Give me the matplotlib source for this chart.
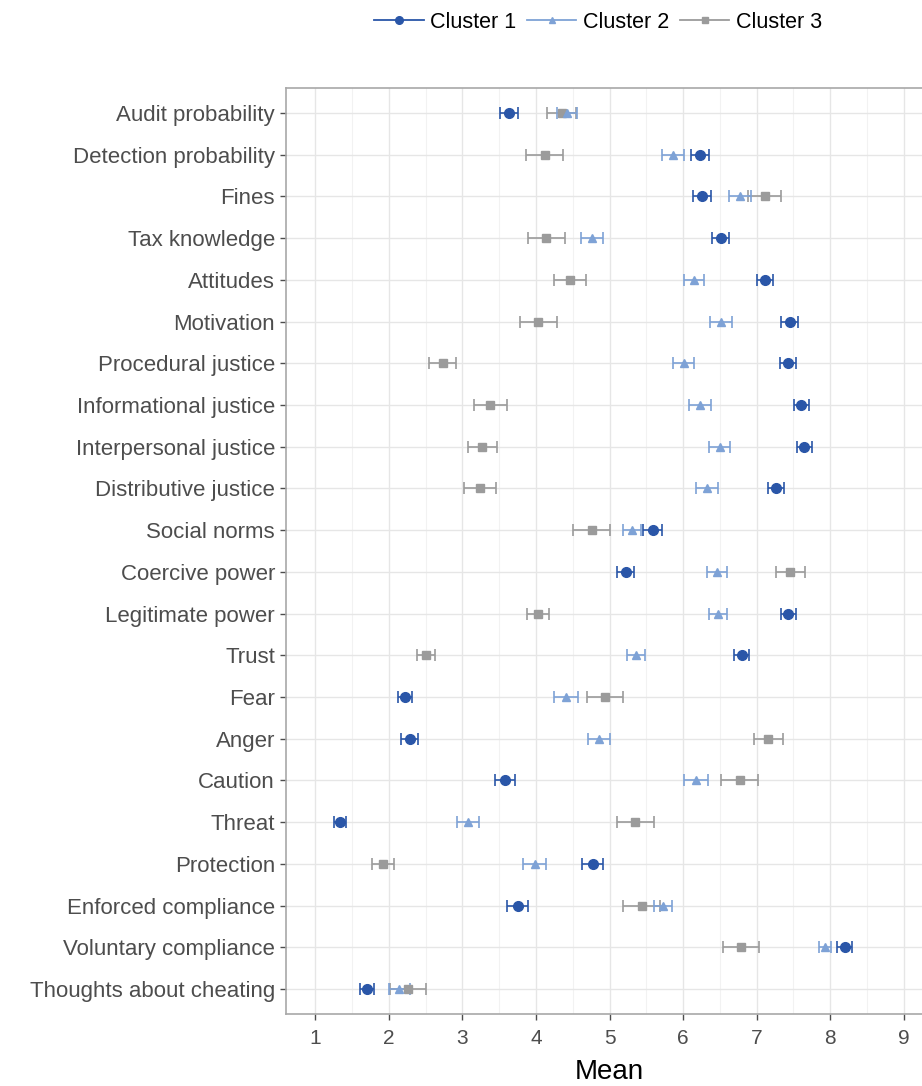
import numpy as np
import matplotlib
matplotlib.use('Agg')
import matplotlib.pyplot as plt
from matplotlib.lines import Line2D

plt.rcParams['font.family'] = ['Liberation Sans', 'DejaVu Sans']

# Data (top row first)
variables = ['Audit probability', 'Detection probability', 'Fines', 'Tax knowledge',
             'Attitudes', 'Motivation', 'Procedural justice', 'Informational justice',
             'Interpersonal justice', 'Distributive justice', 'Social norms',
             'Coercive power', 'Legitimate power', 'Trust', 'Fear', 'Anger',
             'Caution', 'Threat', 'Protection', 'Enforced compliance',
             'Voluntary compliance', 'Thoughts about cheating']

cluster1_mean = [3.63, 6.23, 6.26, 6.51, 7.11, 7.45, 7.43, 7.61, 7.65, 7.27, 5.59,
                 5.22, 7.43, 6.80, 2.22, 2.28, 3.58, 1.33, 4.77, 3.75, 8.20, 1.70]
cluster1_err = [0.12, 0.12, 0.12, 0.12, 0.11, 0.12, 0.11, 0.10, 0.10, 0.11, 0.13,
                0.12, 0.10, 0.10, 0.10, 0.11, 0.14, 0.08, 0.14, 0.14, 0.10, 0.10]

cluster2_mean = [4.42, 5.86, 6.77, 4.76, 6.15, 6.52, 6.01, 6.23, 6.50, 6.32, 5.31,
                 6.46, 6.48, 5.36, 4.41, 4.86, 6.18, 3.07, 3.98, 5.73, 7.93, 2.14]
cluster2_err = [0.14, 0.15, 0.15, 0.15, 0.14, 0.15, 0.14, 0.15, 0.14, 0.15, 0.12,
                0.14, 0.12, 0.12, 0.16, 0.15, 0.16, 0.15, 0.15, 0.12, 0.08, 0.14]

cluster3_mean = [4.35, 4.12, 7.11, 4.14, 4.46, 4.03, 2.73, 3.38, 3.27, 3.24, 4.76,
                 7.46, 4.03, 2.50, 4.94, 7.16, 6.77, 5.35, 1.92, 5.44, 6.79, 2.26]
cluster3_err = [0.20, 0.25, 0.22, 0.25, 0.22, 0.25, 0.18, 0.22, 0.20, 0.22, 0.25,
                0.20, 0.15, 0.12, 0.25, 0.20, 0.25, 0.25, 0.15, 0.25, 0.25, 0.25]

series = [
    ('Cluster 1', cluster1_mean, cluster1_err, '#2a56a8', 'o', 7.0),
    ('Cluster 2', cluster2_mean, cluster2_err, '#7ea2d6', '^', 6.0),
    ('Cluster 3', cluster3_mean, cluster3_err, '#9b9b9b', 's', 6.0),
]

fig = plt.figure(figsize=(9.22, 10.86), dpi=100)
W, H = 922, 1086
left_px, right_px, top_px, bottom_px = 286, 933, 88, 1014
ax = fig.add_axes([left_px / W, 1 - bottom_px / H,
                   (right_px - left_px) / W, (bottom_px - top_px) / H])

y = np.arange(len(variables))

# draw back to front: cluster 3, 2, 1
for name, mean, err, color, marker, ms in reversed(series):
    ax.errorbar(mean, y, xerr=err, fmt='none', ecolor=color, elinewidth=1.2,
                capsize=4, capthick=1.2, zorder=3)
    ax.plot(mean, y, linestyle='none', marker=marker, color=color,
            markersize=ms, zorder=4)

ax.set_xlim(0.6, 9.4)
ax.set_ylim(len(variables) - 0.4, -0.6)
ax.set_yticks(y)
ax.set_yticklabels(variables)
ax.set_xticks(np.arange(1, 10))
ax.set_xticks(np.arange(1.5, 9.5, 1), minor=True)

ax.grid(True, which='major', color='#e6e6e6', linewidth=1.0, zorder=0)
ax.grid(True, which='minor', axis='x', color='#f2f2f2', linewidth=0.8, zorder=0)
ax.set_axisbelow(True)

for side in ['top', 'right', 'bottom', 'left']:
    ax.spines[side].set_color('#a8a8a8')
    ax.spines[side].set_linewidth(1.2)

ax.tick_params(axis='y', which='major', labelsize=16, labelcolor='#4d4d4d',
               color='#4d4d4d', length=4, width=1, pad=4)
ax.tick_params(axis='x', which='major', labelsize=15, labelcolor='#4d4d4d',
               color='#4d4d4d', length=4, width=1, pad=7)
ax.tick_params(axis='x', which='minor', length=0)

ax.set_xlabel('Mean', fontsize=20, color='black', labelpad=8)

handles = [Line2D([0], [0], color=c, marker=m, markersize=ms - 1.5, linewidth=1.3)
           for _, _, _, c, m, ms in series]
fig.legend(handles, [s[0] for s in series], loc='center', ncol=3,
           bbox_to_anchor=(598 / W, 1 - 22 / H), frameon=False, fontsize=15.5,
           handlelength=2.3, handletextpad=0.3, columnspacing=0.5)

fig.savefig('out.png', dpi=100)
